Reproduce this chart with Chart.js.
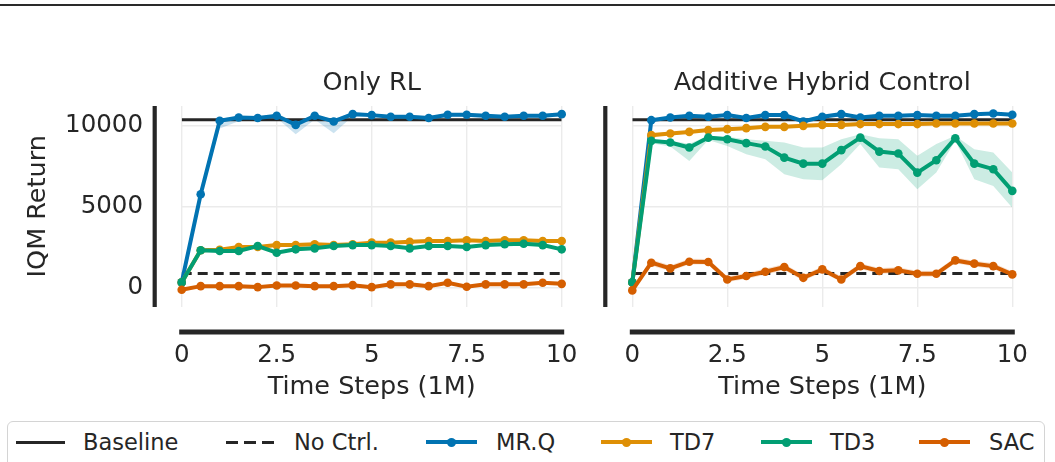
<!DOCTYPE html>
<html><head><meta charset="utf-8">
<script src="https://cdn.jsdelivr.net/npm/chart.js@4.4.1/dist/chart.umd.min.js"></script>
<style>
html,body{margin:0;padding:0;background:#fff;}
body{width:1055px;height:462px;overflow:hidden;position:relative;font-family:'DejaVu Sans',sans-serif;color:#262626;}
#topline{position:absolute;left:0;top:4px;width:1055px;height:2px;background:#2a2a2a;}
canvas{position:absolute;top:0;}
#c1{left:0px;} #c2{left:450px;}
#legend{position:absolute;left:7px;top:421px;width:1038px;height:60px;border:1.5px solid #d4d4d4;border-radius:6px;box-sizing:border-box;}
.ln{position:absolute;height:4px;top:18px;}
.dot{position:absolute;width:9px;height:9px;border-radius:50%;top:-2.5px;left:21px;}
.tx{position:absolute;top:6px;font-size:22.5px;line-height:28px;white-space:nowrap;color:#262626;}
</style>
</head><body>
<div id="topline"></div>
<canvas id="c1" width="600" height="410"></canvas>
<canvas id="c2" width="600" height="410"></canvas>
<div id="legend">
  <div class="ln" style="left:8px;width:49px;height:3px;top:18.5px;background:#262626"></div><div class="tx" style="left:75px">Baseline</div>
  <div class="ln" style="left:218px;width:48px;height:3px;top:18.5px;background:repeating-linear-gradient(90deg,#262626 0 12px,transparent 12px 18px)"></div><div class="tx" style="left:286px">No Ctrl.</div>
  <div class="ln" style="left:418px;width:51px;background:#0173b2"><div class="dot" style="background:#0173b2"></div></div><div class="tx" style="left:488px">MR.Q</div>
  <div class="ln" style="left:593px;width:51px;background:#de8f05"><div class="dot" style="background:#de8f05"></div></div><div class="tx" style="left:662px">TD7</div>
  <div class="ln" style="left:753px;width:51px;background:#029e73"><div class="dot" style="background:#029e73"></div></div><div class="tx" style="left:822px">TD3</div>
  <div class="ln" style="left:911px;width:51px;background:#d55e00"><div class="dot" style="background:#d55e00"></div></div><div class="tx" style="left:981px">SAC</div>
</div>
<script>
// ---- data ----
const xSteps = [0,0.5,1,1.5,2,2.5,3,3.5,4,4.5,5,5.5,6,6.5,7,7.5,8,8.5,9,9.5,10];
const xTicks = [0,2.5,5,7.5,10];
const yTicks = [0,5000,10000];
const baselineValue = 10330;
const noCtrlValue = 900;

// Only RL
const rlMRQ = [350,5760,10270,10470,10440,10580,10020,10580,10230,10680,10620,10520,10520,10440,10640,10640,10580,10520,10580,10580,10680];
const rlMRQLow = [300,5600,9800,10250,10300,10450,9450,10350,9500,10550,10500,10400,10400,10250,10500,10500,10450,10400,10450,10450,10550];
const rlMRQHigh = [400,5900,10400,10550,10520,10650,10200,10650,10400,10750,10700,10600,10600,10550,10720,10720,10650,10600,10650,10650,10750];
const rlTD7 = [350,2320,2350,2520,2520,2640,2640,2690,2640,2690,2790,2790,2850,2890,2890,2930,2890,2930,2930,2890,2890];
const rlTD3 = [350,2320,2280,2280,2580,2170,2380,2440,2580,2640,2640,2580,2440,2580,2580,2520,2640,2690,2720,2640,2380];
const rlSAC = [-100,120,120,120,60,160,160,120,120,180,60,230,230,120,330,80,230,230,230,330,260];

// Additive Hybrid Control
const hyMRQ = [350,10310,10470,10580,10520,10620,10440,10620,10620,10230,10520,10680,10470,10580,10580,10620,10580,10580,10680,10720,10640];
const hyTD7 = [350,9390,9490,9590,9700,9760,9820,9900,9900,9960,10020,10020,10070,10070,10070,10070,10110,10110,10110,10110,10110];
const hyTD3 = [350,9040,8940,8630,9240,9140,8900,8690,8010,7640,7640,8470,9240,8380,8260,7090,7850,9200,7640,7300,5970];
const hyTD3Low = [300,8900,8700,7810,9100,8730,8220,7910,6990,6680,6620,7610,8840,7400,7300,6070,7090,9040,6680,6270,4940];
const hyTD3High = [400,9150,9050,8860,9350,9290,9140,9040,8940,8630,8630,9140,9450,9200,9140,8120,8840,9350,8530,8320,7090];
const hySAC = [-140,1560,1210,1620,1600,530,740,1000,1290,630,1150,530,1350,1050,1090,880,880,1700,1500,1350,840];
const hySACLow = [-200,1350,1050,1450,1450,380,560,820,1100,450,980,380,1180,880,900,700,700,1530,1330,1170,680];
const hySACHigh = [-80,1750,1400,1800,1780,720,930,1200,1480,820,1330,720,1530,1230,1280,1070,1070,1880,1680,1540,1030];

const COL = {MRQ:'#0173b2', TD7:'#de8f05', TD3:'#029e73', SAC:'#d55e00', ink:'#262626'};
const FONT = "'DejaVu Sans', sans-serif";

const pts = arr => xSteps.map((x,i)=>({x:x, y:arr[i]}));
const constPts = v => xSteps.map(x=>({x:x, y:v}));

function meanDs(arr, color, order){
  return {data:pts(arr), borderColor:color, backgroundColor:color, borderWidth:4, pointRadius:4.3,
    pointBorderWidth:0, pointBackgroundColor:color, tension:0, fill:false, order:order, clip:false};
}
function bandDs(low, high, rgba, order){
  return [
    {data:pts(low), borderWidth:0, pointRadius:0, fill:false, order:order, borderColor:'transparent', clip:false},
    {data:pts(high), borderWidth:0, pointRadius:0, fill:'-1', backgroundColor:rgba, order:order, borderColor:'transparent', clip:false}
  ];
}
function refDs(){
  return [
    {data:constPts(baselineValue), borderColor:COL.ink, borderWidth:3, pointRadius:0, fill:false, order:6},
    {data:constPts(noCtrlValue), borderColor:COL.ink, borderWidth:3, borderDash:[10,6], pointRadius:0, fill:false, order:6}
  ];
}

const spinePlugin = {
  id:'spines',
  afterDraw(chart){
    const {ctx, chartArea:a} = chart;
    ctx.save();
    ctx.strokeStyle = COL.ink;
    ctx.lineCap = 'butt';
    ctx.lineWidth = 4.2;
    ctx.beginPath(); ctx.moveTo(a.left-27, a.top); ctx.lineTo(a.left-27, a.bottom+0.5); ctx.stroke();
    ctx.lineCap = 'square';
    ctx.lineWidth = 5;
    ctx.beginPath(); ctx.moveTo(a.left, a.bottom+25.5); ctx.lineTo(a.right, a.bottom+25.5); ctx.stroke();
    ctx.restore();
  }
};

function makeChart(id, titleText, datasets, showY, yAxisWidth, padRight){
  return new Chart(document.getElementById(id), {
    type:'line',
    data:{datasets:datasets},
    plugins:[spinePlugin],
    options:{
      responsive:false, animation:false, events:[],
      layout:{padding:{left:0, right:padRight, top:0, bottom:3.5}},
      plugins:{
        legend:{display:false}, tooltip:{enabled:false},
        title:{display:true, text:titleText, fullSize:false, color:COL.ink,
          font:{family:FONT, size:25.5, weight:'normal'}, padding:{top:68.2, bottom:7.2}}
      },
      scales:{
        x:{type:'linear', min:0, max:10,
          afterBuildTicks: s => { s.ticks = xTicks.map(v=>({value:v})); },
          afterFit: s => { s.height = 100; s.paddingLeft = 0; s.paddingRight = 0; },
          grid:{color:'#ebebeb', lineWidth:1.4, drawTicks:false},
          border:{display:false},
          ticks:{color:COL.ink, font:{family:FONT, size:24.5}, padding:34.3, maxRotation:0, autoSkip:false,
            callback: v => String(v)},
          title:{display:true, text:'Time Steps (1M)', color:COL.ink, font:{family:FONT, size:25.5},
            padding:{top:0, bottom:3.5}}
        },
        y:{type:'linear', min:-1130, max:11180,
          afterBuildTicks: s => { s.ticks = yTicks.map(v=>({value:v})); },
          afterFit: s => { s.width = yAxisWidth; s.paddingTop = 0; s.paddingBottom = 0; },
          grid:{color:'#ebebeb', lineWidth:1.4, drawTicks:false},
          border:{display:false},
          ticks:{display:showY, color:COL.ink, font:{family:FONT, size:24.5}, padding:38.7,
            callback: v => String(v)},
          title:{display:showY, text:'IQM Return', color:COL.ink, font:{family:FONT, size:25.5},
            padding:{top:22.7, bottom:0}}
        }
      }
    }
  });
}

const ds1 = [
  ...refDs(),
  ...bandDs(rlMRQLow, rlMRQHigh, 'rgba(1,115,178,0.2)', 9),
  meanDs(rlMRQ, COL.MRQ, 4),
  meanDs(rlTD7, COL.TD7, 3),
  meanDs(rlTD3, COL.TD3, 2),
  meanDs(rlSAC, COL.SAC, 1)
];
const ds2 = [
  ...refDs(),
  ...bandDs(hyTD3Low, hyTD3High, 'rgba(2,158,115,0.2)', 8),
  ...bandDs(hySACLow, hySACHigh, 'rgba(213,94,0,0.18)', 8),
  meanDs(hyMRQ, COL.MRQ, 4),
  meanDs(hyTD7, COL.TD7, 3),
  meanDs(hyTD3, COL.TD3, 2),
  meanDs(hySAC, COL.SAC, 1)
];
makeChart('c1', 'Only RL', ds1, true, 181.7, 38.3);
makeChart('c2', 'Additive Hybrid Control', ds2, false, 182.3, 37.7);
</script>
</body></html>
